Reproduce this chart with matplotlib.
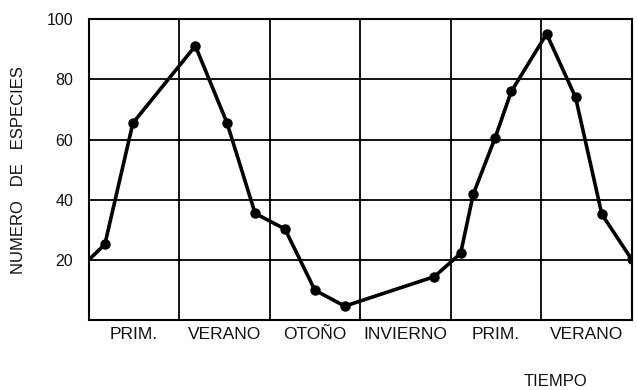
import matplotlib
matplotlib.use("Agg")
import matplotlib.pyplot as plt

plt.rcParams['font.family'] = ['Liberation Sans', 'DejaVu Sans']

# data
time_pos = [0.0, 0.18, 0.49, 1.18, 1.53, 1.84, 2.17, 2.50, 2.83, 3.82,
            4.11, 4.25, 4.49, 4.67, 5.06, 5.38, 5.67, 6.0]
species = [20, 25.2, 65.5, 91.1, 65.5, 35.5, 30.3, 10, 4.7, 14.5,
           22.2, 41.9, 60.5, 76, 95.1, 74, 35.2, 20.2]
seasons = ["PRIM.", "VERANO", "OTOÑO", "INVIERNO", "PRIM.", "VERANO"]
yticks = [20, 40, 60, 80, 100]

fig = plt.figure(figsize=(6.37, 3.90), dpi=100)
ax = fig.add_axes([0.139, 0.1787, 0.8527, 0.7723])

ax.plot(time_pos, species, color='black', lw=2.6, marker='o', ms=6.5,
        markevery=list(range(1, len(time_pos))),
        solid_joinstyle='round', zorder=3)

ax.set_xlim(0, 6)
ax.set_ylim(0, 100)
ax.set_xticks(range(7))
ax.set_xticklabels([])
ax.set_xticks([i + 0.5 for i in range(6)], minor=True)
ax.set_xticklabels(seasons, minor=True, fontsize=12.5, color='#111111')
ax.set_yticks(yticks)
ax.set_yticklabels([str(v) for v in yticks], fontsize=11.5, color='#111111')
ax.tick_params(axis='both', which='both', length=0)
ax.tick_params(axis='x', which='minor', pad=5)
ax.tick_params(axis='y', pad=11)
ax.grid(True, which='major', color='black', lw=1.3)
for s in ax.spines.values():
    s.set_linewidth(1.5)
    s.set_color('black')

ax.set_ylabel("NUMERO   DE   ESPECIES", fontsize=12, labelpad=15, color='#111111')
fig.text(555 / 637, 1 - 382 / 390, "TIEMPO", fontsize=12, ha='center', va='center',
         color='#111111')

fig.savefig("out.png", dpi=100)
